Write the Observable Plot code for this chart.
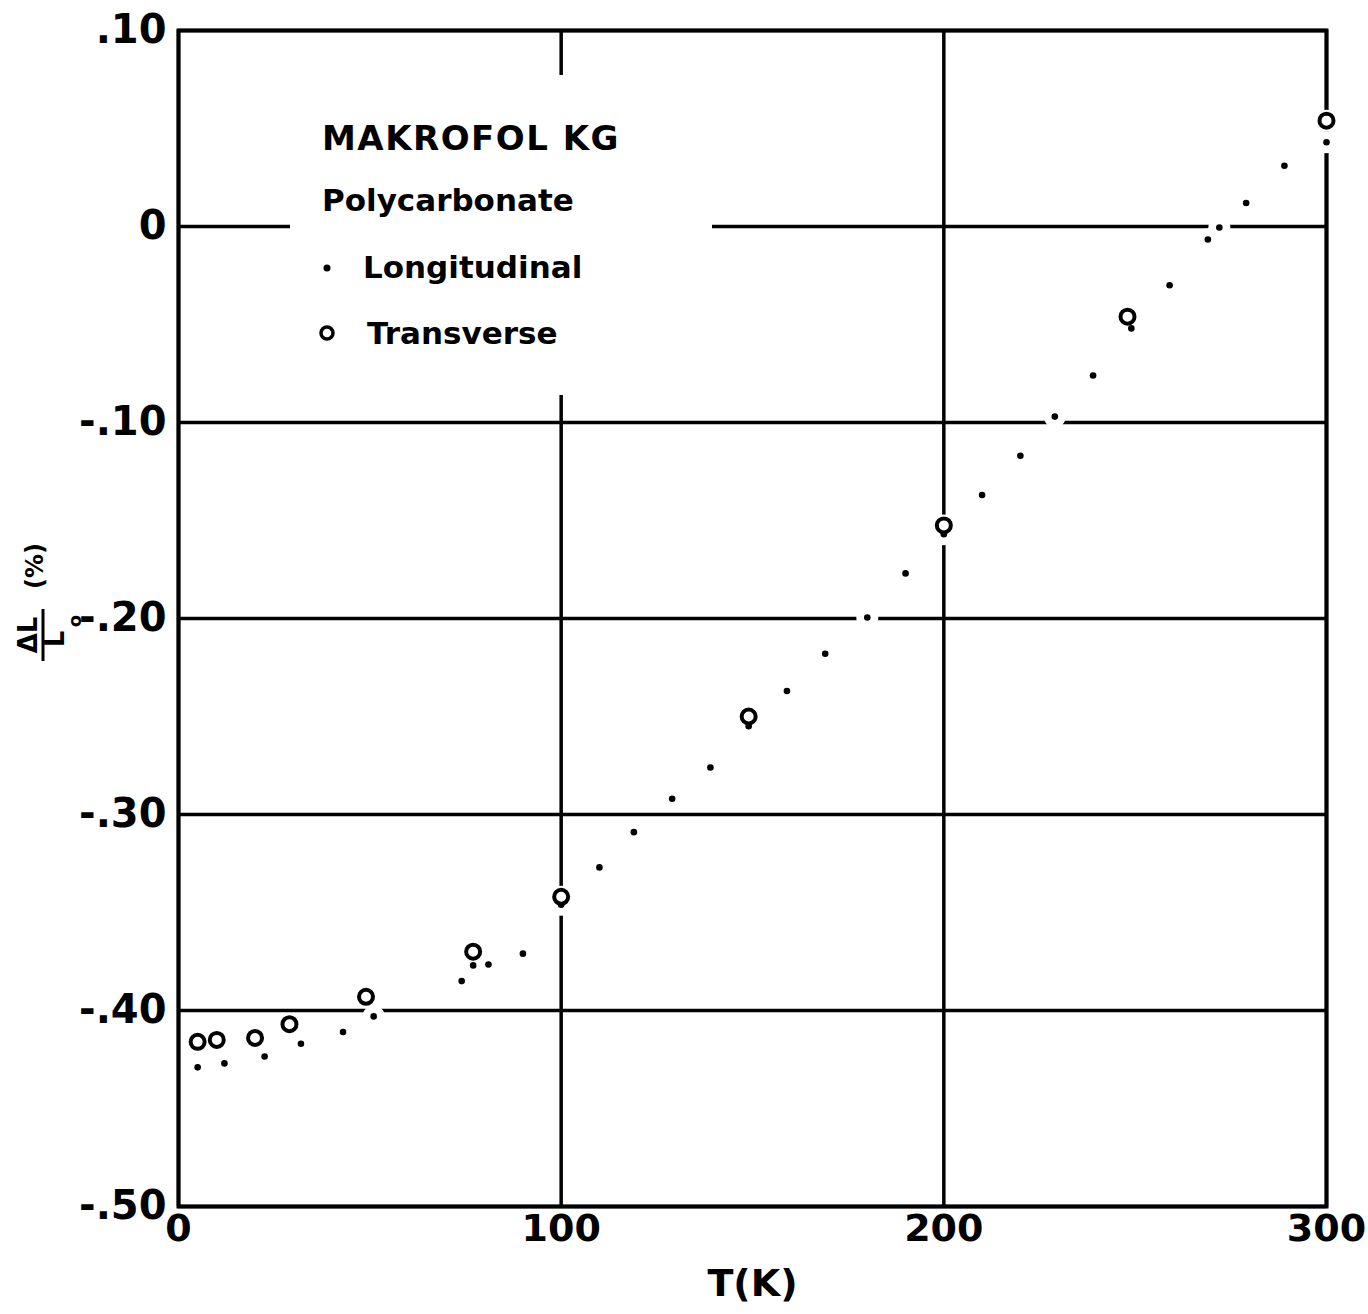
<!DOCTYPE html>
<html>
<head>
<meta charset="utf-8">
<script src="https://cdn.jsdelivr.net/npm/d3@7"></script>
<script src="https://cdn.jsdelivr.net/npm/@observablehq/plot@0.6"></script>
<style>
  html, body { margin: 0; padding: 0; background: white; }
  #chart { width: 1368px; height: 1314px; }
</style>
</head>
<body>
<div id="chart"></div>
<script>
// Thermal expansion of Makrofol KG polycarbonate film, ΔL/L0 in percent vs temperature
const longitudinalT = [5, 12, 22.5, 32, 43, 51, 74, 77, 81, 90, 100, 110, 119, 129, 139, 149, 159, 169, 180, 190, 200, 210, 220, 229, 239, 249, 259, 269, 272, 279, 289, 300];
const longitudinalV = [-0.429, -0.427, -0.4235, -0.417, -0.411, -0.403, -0.385, -0.377, -0.3765, -0.371, -0.346, -0.327, -0.309, -0.292, -0.276, -0.255, -0.237, -0.218, -0.1995, -0.177, -0.157, -0.137, -0.117, -0.097, -0.076, -0.052, -0.030, -0.0066, -0.0005, 0.012, 0.031, 0.043];

const transverseT = [5, 10, 20, 29, 49, 77, 100, 149, 200, 248, 300];
const transverseV = [-0.416, -0.415, -0.414, -0.407, -0.393, -0.370, -0.342, -0.250, -0.1525, -0.046, 0.054];

const xTicks = [0, 100, 200, 300];
const xTickLabels = ["0", "100", "200", "300"];
const yTicks = [0.1, 0, -0.1, -0.2, -0.3, -0.4, -0.5];
const yTickLabels = [".10", "0", "-.10", "-.20", "-.30", "-.40", "-.50"];

const longitudinal = longitudinalT.map((t, i) => ({T: t, v: longitudinalV[i]}));
const transverse = transverseT.map((t, i) => ({T: t, v: transverseV[i]}));
const allPoints = longitudinal.concat(transverse);

const FONT = "DejaVu Sans";

const plot = Plot.plot({
  width: 1368,
  height: 1314,
  marginLeft: 178,
  marginRight: 42,
  marginTop: 30,
  marginBottom: 108,
  x: {domain: [0, 300]},
  y: {domain: [-0.5, 0.1]},
  style: {fontFamily: FONT, fontWeight: "bold", fontSize: "40px", color: "black", background: "white"},
  marks: [
    Plot.gridX(xTicks, {stroke: "black", strokeOpacity: 1, strokeWidth: 3.5}),
    Plot.gridY(yTicks, {stroke: "black", strokeOpacity: 1, strokeWidth: 3.5}),
    Plot.frame({stroke: "black", strokeWidth: 4}),
    // white knock-outs where the ruling breaks around the plotted symbols
    Plot.dot(allPoints, {x: "T", y: "v", r: 11, fill: "white", stroke: "none"}),
    Plot.dot(longitudinal, {x: "T", y: "v", r: 3.3, fill: "black", stroke: "none"}),
    Plot.dot(transverse, {x: "T", y: "v", r: 7, fill: "white", stroke: "black", strokeWidth: 4}),
    Plot.axisX({
      ticks: xTicks,
      tickFormat: d => xTickLabels[xTicks.indexOf(d)],
      tickSize: 0,
      tickPadding: 8,
      fontSize: 38,
      fontWeight: "bold",
      label: null
    }),
    Plot.axisY({
      ticks: yTicks,
      tickFormat: d => yTickLabels[yTicks.indexOf(d)],
      tickSize: 0,
      tickPadding: 12,
      fontSize: 40,
      fontWeight: "bold",
      label: null
    }),
    Plot.text(["T(K)"], {frameAnchor: "bottom", dy: 89, fontSize: 38, fontWeight: "bold"})
  ]
});

document.getElementById("chart").appendChild(plot);

const svg = d3.select(plot);

// Legend block, on a white panel that interrupts the grid lines
const legend = svg.append("g")
  .attr("font-family", FONT).attr("font-weight", "bold").attr("fill", "black")
  .attr("text-anchor", "start");
legend.append("rect").attr("x", 290).attr("y", 75).attr("width", 422).attr("height", 320).attr("fill", "white");
legend.append("text").attr("x", 322).attr("y", 150).attr("font-size", 34).attr("letter-spacing", 1.5).text("MAKROFOL KG");
legend.append("text").attr("x", 322).attr("y", 211).attr("font-size", 31).text("Polycarbonate");
legend.append("circle").attr("cx", 327).attr("cy", 268).attr("r", 3.5).attr("fill", "black");
legend.append("text").attr("x", 363).attr("y", 278).attr("font-size", 31).text("Longitudinal");
legend.append("circle").attr("cx", 327).attr("cy", 333).attr("r", 6).attr("fill", "white").attr("stroke", "black").attr("stroke-width", 3.5);
legend.append("text").attr("x", 367).attr("y", 344).attr("font-size", 31).text("Transverse");

// Y axis label: ΔL over L₀, then (%), rotated
const ylab = svg.append("g")
  .attr("transform", "translate(43,635) rotate(-90)")
  .attr("font-family", FONT).attr("font-weight", "bold").attr("fill", "black");
ylab.append("text").attr("x", 0).attr("y", -6).attr("text-anchor", "middle").attr("font-size", 26).text("ΔL");
ylab.append("line").attr("x1", -26).attr("x2", 26).attr("y1", 0).attr("y2", 0).attr("stroke", "black").attr("stroke-width", 3);
ylab.append("text").attr("x", -4).attr("y", 21).attr("text-anchor", "middle").attr("font-size", 26).text("L");
ylab.append("text").attr("x", 14).attr("y", 38).attr("text-anchor", "middle").attr("font-size", 18).text("o");
ylab.append("text").attr("x", 46).attr("y", 0).attr("text-anchor", "start").attr("font-size", 24).text("(%)");
</script>
</body>
</html>
